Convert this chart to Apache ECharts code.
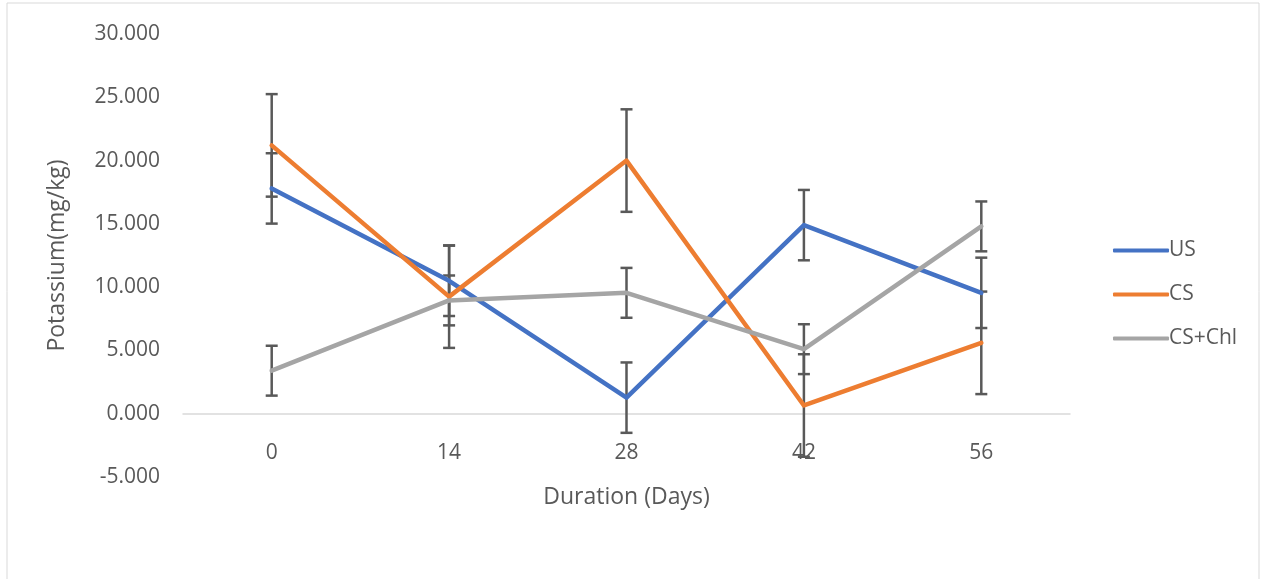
<!DOCTYPE html>
<html><head><meta charset="utf-8">
<script src="https://cdn.jsdelivr.net/npm/echarts@6/dist/echarts.min.js"></script>
<style>html,body{margin:0;padding:0;background:#fff}#c{width:1265px;height:579px}</style>
</head><body><div id="c"></div>
<script>
const categories = ['0', '14', '28', '42', '56'];
const usValues = [17.8, 10.5, 1.27, 14.9, 9.55];
const csValues = [21.2, 9.25, 20.0, 0.65, 5.6];
const chlValues = [3.4, 8.95, 9.55, 5.1, 14.8];
const usErr = [2.78, 2.78, 2.78, 2.78, 2.78];
const csErr = [4.05, 4.05, 4.05, 4.05, 4.05];
const chlErr = [1.97, 1.97, 1.97, 1.97, 1.97];
const seriesNames = ['US', 'CS', 'CS+Chl'];
const colors = ['#4472C4', '#ED7D31', '#A5A5A5'];

const FONT = 'Open Sans';
const TXT = '#595959';

function errSeries(vals, errs) {
  return {
    type: 'custom',
    z: 1,
    silent: true,
    data: vals.map((v, i) => [i, v - errs[i], v + errs[i]]),
    renderItem: function (params, api) {
      const lo = api.coord([api.value(0), api.value(1)]);
      const hi = api.coord([api.value(0), api.value(2)]);
      const hw = 6;
      const st = { stroke: '#595959', lineWidth: 2.5 };
      return {
        type: 'group',
        children: [
          { type: 'line', shape: { x1: lo[0], y1: lo[1], x2: hi[0], y2: hi[1] }, style: st },
          { type: 'line', shape: { x1: lo[0] - hw, y1: lo[1], x2: lo[0] + hw, y2: lo[1] }, style: st },
          { type: 'line', shape: { x1: hi[0] - hw, y1: hi[1], x2: hi[0] + hw, y2: hi[1] }, style: st }
        ]
      };
    },
    encode: { x: 0, y: [1, 2] }
  };
}

function lineSeries(name, vals, color) {
  return {
    name: name, type: 'line', data: vals, z: 3,
    symbol: 'none', lineStyle: { color: color, width: 4.5, cap: 'round', join: 'round' },
    itemStyle: { color: color }
  };
}

const chart = echarts.init(document.getElementById('c'));
chart.setOption({
  animation: false,
  textStyle: { fontFamily: FONT },
  graphic: [{ type: 'rect', shape: { x: 7, y: 3, width: 1252, height: 590 }, style: { fill: 'none', stroke: '#d9d9d9', lineWidth: 1 }, silent: true }],
  grid: { left: 183, right: 195, top: 34, bottom: 102 },
  legend: {
    orient: 'vertical', left: 1108, top: 235, itemGap: 23,
    itemWidth: 56, itemHeight: 4,
    icon: 'roundRect',
    data: seriesNames,
    textStyle: { fontFamily: FONT, fontSize: 21, color: TXT, padding: [0, 0, 0, -5] }
  },
  xAxis: {
    type: 'category', data: categories, boundaryGap: true,
    axisLine: { onZero: true, lineStyle: { color: '#d9d9d9', width: 1.5 } },
    axisTick: { show: false },
    axisLabel: { color: TXT, fontSize: 21, margin: -34, fontFamily: FONT },
    name: 'Duration (Days)', nameLocation: 'middle', nameGap: 9,
    nameTextStyle: { color: TXT, fontSize: 23, fontFamily: FONT }
  },
  yAxis: {
    type: 'value', min: -5, max: 30, interval: 5,
    axisLine: { show: false }, axisTick: { show: false },
    splitLine: { show: false },
    axisLabel: { color: TXT, fontSize: 21, margin: 23, fontFamily: FONT, formatter: v => v.toFixed(3) },
    name: 'Potassium(mg/kg)', nameLocation: 'middle', nameGap: 114,
    nameTextStyle: { color: TXT, fontSize: 23, fontFamily: FONT }
  },
  series: [
    errSeries(usValues, usErr),
    errSeries(csValues, csErr),
    errSeries(chlValues, chlErr),
    lineSeries(seriesNames[0], usValues, colors[0]),
    lineSeries(seriesNames[1], csValues, colors[1]),
    lineSeries(seriesNames[2], chlValues, colors[2])
  ]
});
</script></body></html>
